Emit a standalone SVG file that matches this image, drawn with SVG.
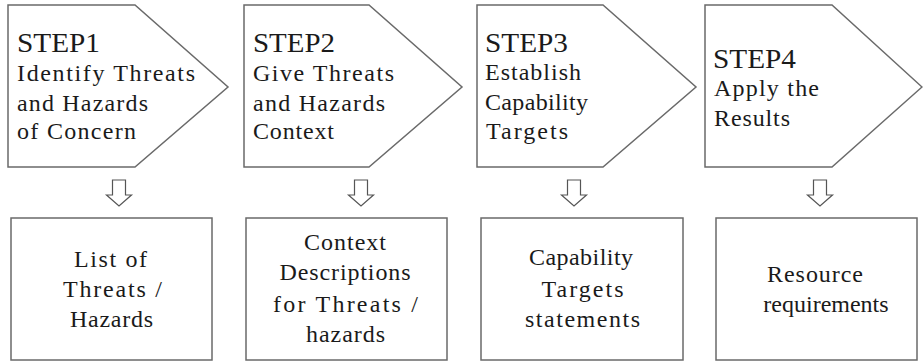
<svg xmlns="http://www.w3.org/2000/svg" width="923" height="362" viewBox="0 0 923 362">
<style>
.shape{fill:#fff;stroke:#6a6a6a;stroke-width:1.5}
.arrow{fill:#fff;stroke:#555;stroke-width:1.2}
text{font-family:'Liberation Serif','Times New Roman',serif;fill:#1a1a1a}
.step{font-size:27px}
.body{font-size:24px}
.box{font-size:24px;text-anchor:middle}
</style>
<rect width="923" height="362" fill="#fff"/>
<g id="step1">
<polygon class="shape" points="8,5 135,5 228,87 135,167 8,167"/>
<text class="step" x="17" y="52" textLength="83" lengthAdjust="spacingAndGlyphs">STEP1</text>
<text class="body" x="17" y="81" textLength="178">Identify Threats</text>
<text class="body" x="17" y="111" textLength="131">and Hazards</text>
<text class="body" x="17" y="139" textLength="119">of Concern</text>
</g>
<g id="step2">
<polygon class="shape" points="244,5 369,5 462,87 369,167 244,167"/>
<text class="step" x="253" y="52" textLength="82" lengthAdjust="spacingAndGlyphs">STEP2</text>
<text class="body" x="253" y="81" textLength="141">Give Threats</text>
<text class="body" x="253" y="111" textLength="132">and Hazards</text>
<text class="body" x="253" y="139" textLength="81">Context</text>
</g>
<g id="step3">
<polygon class="shape" points="477,5 603,5 696,87 603,167 477,167"/>
<text class="step" x="485" y="52" textLength="83" lengthAdjust="spacingAndGlyphs">STEP3</text>
<text class="body" x="485" y="80" textLength="96">Establish</text>
<text class="body" x="485" y="110" textLength="103">Capability</text>
<text class="body" x="486" y="139" textLength="82">Targets</text>
</g>
<g id="step4">
<polygon class="shape" points="705,5 832,5 922,87 832,167 705,167"/>
<text class="step" x="713" y="68" textLength="83" lengthAdjust="spacingAndGlyphs">STEP4</text>
<text class="body" x="714" y="96" textLength="105">Apply the</text>
<text class="body" x="714" y="126" textLength="76">Results</text>
</g>
<g id="out1">
<rect class="shape" x="11" y="218" width="201" height="142"/>
<text class="box" x="110.5" y="267" textLength="73">List of</text>
<text class="box" x="112.5" y="297" textLength="99">Threats /</text>
<text class="box" x="111.5" y="327" textLength="83">Hazards</text>
</g>
<g id="out2">
<rect class="shape" x="246" y="218" width="201" height="142"/>
<text class="box" x="345" y="250" textLength="82">Context</text>
<text class="box" x="345" y="280" textLength="131">Descriptions</text>
<text class="box" x="345.5" y="312" textLength="145">for Threats /</text>
<text class="box" x="345.5" y="342" textLength="79">hazards</text>
</g>
<g id="out3">
<rect class="shape" x="481" y="218" width="202" height="142"/>
<text class="box" x="581" y="265" textLength="104">Capability</text>
<text class="box" x="582.5" y="297" textLength="82">Targets</text>
<text class="box" x="582.5" y="327" textLength="115">statements</text>
</g>
<g id="out4">
<rect class="shape" x="716" y="218" width="201" height="142"/>
<text class="box" x="815" y="282" textLength="96">Resource</text>
<text class="box" x="826" y="312">requirements</text>
</g>
<g id="connectors">
<path class="arrow" d="M112.5,180 h13 v15 h6 l-12.5,11 l-12.5,-11 h6 z"/>
<path class="arrow" d="M354.5,180 h13 v15 h6 l-12.5,11 l-12.5,-11 h6 z"/>
<path class="arrow" d="M567.5,180 h13 v15 h6 l-12.5,11 l-12.5,-11 h6 z"/>
<path class="arrow" d="M813.5,180 h13 v15 h6 l-12.5,11 l-12.5,-11 h6 z"/>
</g>
</svg>
